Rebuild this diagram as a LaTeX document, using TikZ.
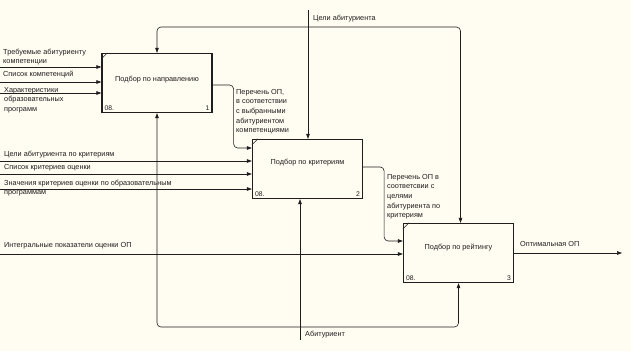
\documentclass[tikz,border=0pt]{standalone}
\usepackage{fontspec}
\setmainfont{Liberation Sans}
\usetikzlibrary{arrows.meta,positioning,calc}
\definecolor{paper}{HTML}{FFFCF1}
\definecolor{ink}{HTML}{1E1E1E}
\tikzset{
  >={Triangle[length=5pt,width=3.6pt]},
  fnbox/.style={draw=ink,line width=1.3pt,fill=paper,minimum width=110pt,minimum height=59pt,inner sep=0pt},
  ttl/.style={font=\fontsize{7.3}{9.5}\selectfont,text=ink,inner sep=0pt},
  num/.style={font=\fontsize{6.8}{8}\selectfont,text=ink,inner sep=0pt},
  lab/.style={font=\fontsize{7.3}{9.6}\selectfont,text=ink,align=left,inner sep=0pt},
  arr/.style={->,draw=ink,line width=0.6pt},
  rarr/.style={arr,rounded corners=4pt},
}

\begin{document}
\begin{tikzpicture}[x=1pt,y=-1pt]
\fill[paper] (0,0) rectangle (631,351);
\useasboundingbox (0,0) rectangle (631,351);

% blocks
\node[fnbox] (b1) at (157,83) {};
\node[fnbox] (b2) at (307.5,169) {};
\node[fnbox] (b3) at (458.5,253) {};
\node[ttl] (t1) at ($(b1.center)+(0,-3)$) {Подбор по направлению};
\node[ttl] (t2) at ($(b2.center)+(0,-6)$) {Подбор по критериям};
\node[ttl] (t3) at ($(b3.center)+(0,-5)$) {Подбор по рейтингу};
\foreach \b/\n in {b1/1,b2/2,b3/3}{
  \node[num,anchor=south west] (\b a) at ($(\b.south west)+(3,-2)$) {08.};
  \node[num,anchor=south east] (\b n) at ($(\b.south east)+(-3,-2)$) {\n};
  \draw[line width=0.6pt,ink] ($(\b.north west)+(0,6)$) -- ($(\b.north west)+(6,0)$);
}

% inputs of block 1
\coordinate (i11) at (0,67);
\coordinate (i12) at (0,82);
\coordinate (i13) at (0,93);
\draw[arr] (i11) -- (i11 -| b1.west);
\draw[arr] (i12) -- (i12 -| b1.west);
\draw[arr] (i13) -- (i13 -| b1.west);
\node[lab,anchor=north west] (l11) at (3,48.5) {Требуемые абитуриенту\\компетенции};
\node[lab,anchor=west] (l12) at (3,75) {Список компетенций};
\node[lab,anchor=north west] (l13) at (4,87) {Характеристики\\образовательных\\программ};

% inputs of block 2
\coordinate (i21) at (0,161);
\coordinate (i22) at (0,174);
\coordinate (i23) at (0,189);
\draw[arr] (i21) -- (i21 -| b2.west);
\draw[arr] (i22) -- (i22 -| b2.west);
\draw[arr] (i23) -- (i23 -| b2.west);
\node[lab,anchor=west] (l21) at (4,155) {Цели абитуриента по критериям};
\node[lab,anchor=west] (l22) at (4,168) {Список критериев оценки};
\node[lab,anchor=north west] (l23) at (4,179.5) {Значения критериев оценки по образовательным\\программам};

% inputs of block 3
\coordinate (i31) at (0,254);
\draw[arr] (i31) -- (i31 -| b3.west);
\node[lab,anchor=west] (l31) at (4,246) {Интегральные показатели оценки ОП};

% outputs
\coordinate (o1) at ($(b1.east)+(0,2)$);
\coordinate (e2) at ($(b2.west)+(0,-21)$);
\draw[rarr] (o1) -- ++(21,0) |- (e2);
\node[lab,anchor=north west] (l1o) at (236,89) {Перечень ОП,\\в соответствии\\с выбранными\\абитуриентом\\компетенциями};
\coordinate (o2) at ($(b2.east)+(0,-2)$);
\coordinate (e3) at ($(b3.west)+(0,-12)$);
\draw[rarr] (o2) -- ++(21,0) |- (e3);
\node[lab,anchor=north west] (l2o) at (387,174) {Перечень ОП в\\соответсвии с\\целями\\абитуриента по\\критериям};
\coordinate (oend) at (622,253);
\draw[arr] (b3.east) -- (oend);
\node[lab,anchor=west] (l3o) at (520,244) {Оптимальная ОП};

% controls
\coordinate (ctop) at (308,10);
\coordinate (cj) at (308,27);
\draw[arr] (ctop) -- (ctop |- b2.north);
\draw[rarr] (cj) -| (b1.north);
\draw[rarr] (cj) -| ($(b3.north)+(2,0)$);
\node[lab,anchor=west] (lc) at (313,19) {Цели абитуриента};

% mechanisms
\coordinate (mbot) at (300,340);
\coordinate (mj) at (300,327);
\draw[arr] (mbot) -- (mbot |- b2.south);
\draw[rarr] (mj) -| (b1.south);
\draw[rarr] (mj) -| (b3.south);
\node[lab,anchor=west] (lm) at (305,335) {Абитуриент};
\end{tikzpicture}
\end{document}
